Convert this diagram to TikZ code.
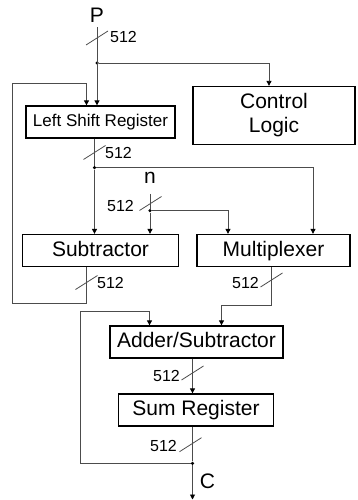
\documentclass[tikz,border=0pt]{standalone}
\usepackage{fontspec}
\setmainfont{Liberation Sans}
\usetikzlibrary{arrows.meta}

\begin{document}
\begin{tikzpicture}[
		x=1pt, y=-1pt,
		blk/.style={draw, line width=1.3pt, rectangle, inner sep=0pt,
			font=\fontsize{21}{24}\selectfont},
		one/.style={text height=15pt, text depth=4pt},
		wire/.style={draw=black!70, line width=0.9pt},
		feed/.style={wire, -{Triangle[length=5pt, width=5pt, color=black]}},
		tick/.style={draw=black!70, line width=0.8pt},
		num/.style={inner sep=0pt, font=\fontsize{16}{18}\selectfont},
		sig/.style={inner sep=0pt, font=\fontsize{21}{24}\selectfont},
		dot/.style={circle, fill=black, inner sep=0pt, minimum size=3.5pt}
		]
		
		\useasboundingbox (0,0) rectangle (357,500);
		
		% Blocks
		\node[blk, minimum width=149, minimum height=32, text height=12pt, text depth=3.5pt,
			font=\fontsize{17}{20}\selectfont] (lsr) at (100.5,122) {Left Shift Register};
		\node[blk, minimum width=162, minimum height=58, align=center] (ctrl) at (274,115.5) {Control\\Logic};
		\node[blk, one, minimum width=156, minimum height=32] (sub) at (100.5,250.5) {Subtractor};
		\node[blk, one, minimum width=153, minimum height=32] (mux) at (273.5,250.5) {Multiplexer};
		\node[blk, one, minimum width=173, minimum height=32] (addsub) at (196.5,342) {Adder/Subtractor};
		\node[blk, one, minimum width=155, minimum height=32] (sumreg) at (196,410) {Sum Register};
		
		% Signals and junctions
		\node[sig] (P) at (97,15) {P};
		\node[sig] (n) at (150,178) {n};
		\node[sig] (C) at (207.5,481) {C};
		\node[dot] (j1) at (97,63) {};
		\node[dot] (j2) at (94.5,167.7) {};
		\node[dot] (j3) at (150,210.7) {};
		\node[dot] (j4) at (192.5,463.3) {};
		\coordinate (cout) at (192.5,499.5);
		
		% Input P
		\draw[feed] ([yshift=-5pt]P.south) -- (P |- lsr.north);
		\draw[feed] (j1) -| ([xshift=-5pt]ctrl.north);
		\draw[tick] (97,38) ++(-11,7) -- ++(22,-14);
		\node[num, anchor=west] (pw) at (110,37) {512};
		
		% Shift register output
		\draw[wire] ([xshift=-6pt]lsr.south) -- (j2);
		\draw[feed] (j2) -- (j2 |- sub.north);
		\draw[feed] (j2) -| ([xshift=39.5pt]mux.north);
		\draw[tick] (94.5,152.5) ++(-11,7) -- ++(22,-14);
		\node[num, anchor=west] (lw) at (105,153) {512};
		
		% Modulus n
		\draw[wire] ([yshift=-10pt]n.south) -- (j3);
		\draw[feed] (j3) -- (j3 |- sub.north);
		\draw[feed] (j3) -| ([xshift=-45.5pt]mux.north);
		\draw[tick] (150.5,203.5) ++(-11,7) -- ++(22,-14);
		\node[num, anchor=east] (nw) at (134,206) {512};
		
		% Subtractor back to shift register
		\draw[feed] ([xshift=-14pt]sub.south) -- ++(0,36) -| (12.3,83) -| ([xshift=-14pt]lsr.north);
		\draw[tick] (86.5,282.5) ++(-11,7) -- ++(22,-14);
		\node[num, anchor=west] (sw) at (97,283) {512};
		
		% Multiplexer output
		\draw[feed] ([xshift=-2pt]mux.south) -- ++(0,38.5) -| ([xshift=25pt]addsub.north);
		\draw[tick] (271.5,280) ++(-11,7) -- ++(22,-14);
		\node[num, anchor=east] (mw) at (259,282.7) {512};
		
		% Adder/subtractor to sum register
		\draw[feed] ([xshift=-4pt]addsub.south) -- ([xshift=-4pt]addsub.south |- sumreg.north);
		\draw[tick] (192.5,373) ++(-11,7) -- ++(22,-14);
		\node[num, anchor=east] (aw) at (180,376) {512};
		
		% Output C and feedback
		\draw[wire] ([xshift=-3.5pt]sumreg.south) -- (j4);
		\draw[feed] (j4) -- (cout);
		\draw[feed] (j4) -| (80.7,311) -| ([xshift=-47pt]addsub.north);
		\draw[tick] (190.5,444.7) ++(-11,7) -- ++(22,-14);
		\node[num, anchor=east] (ow) at (177,445.7) {512};
		
	\end{tikzpicture}
\end{document}
